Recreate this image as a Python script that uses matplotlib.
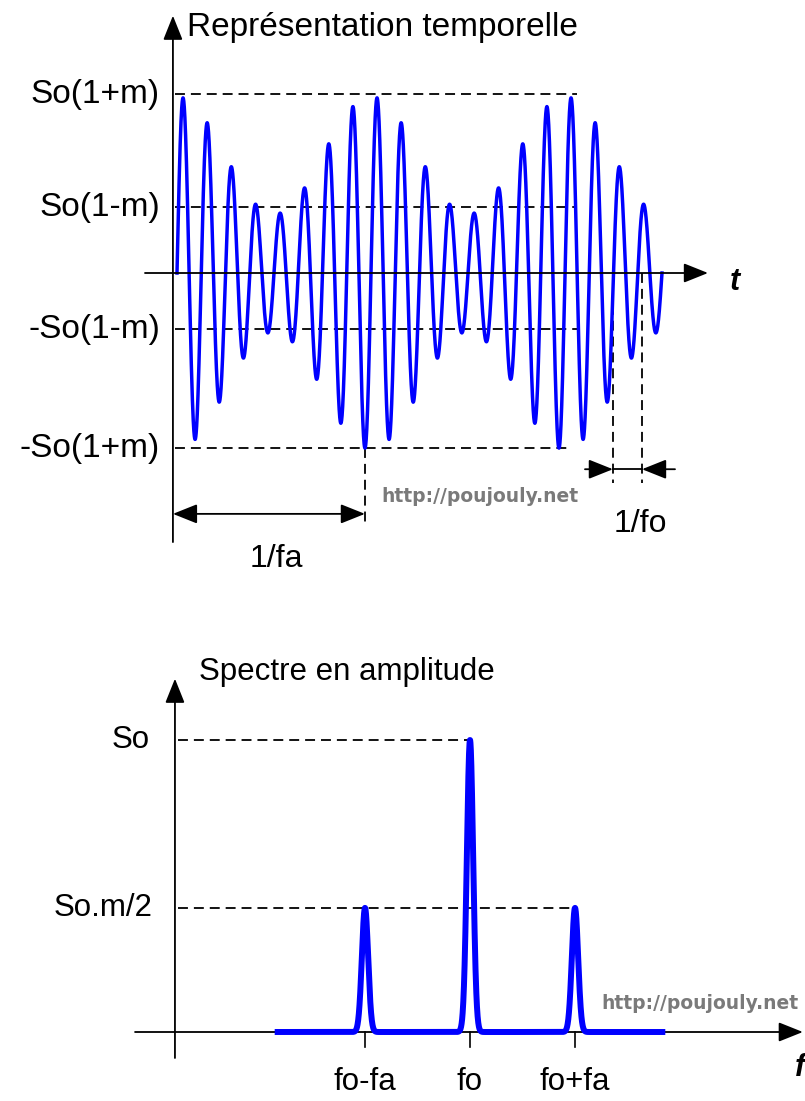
import numpy as np
import matplotlib.pyplot as plt

# Signal parameters (top panel, time in units of 1/fa)
So = 1.0
m = 0.5
fa = 1.0
fo = 8.0
t_end = 2.5

# Reference levels in the time plot
level_labels = ['So(1+m)', 'So(1-m)', '-So(1-m)', '-So(1+m)']
level_vals = [1.52, 0.56, -0.48, -1.49]
level_ends = [2.06, 2.06, 2.06, 2.03]

# Spectrum (bottom panel, frequencies in units of fa)
spec_labels = ['fo-fa', 'fo', 'fo+fa']
spec_freqs = [7.0, 8.0, 9.0]
spec_amps = [0.425, 1.0, 0.425]
spec_span = [6.14, 9.86]
peak_width = 0.03

plt.rcParams['font.family'] = ['Liberation Sans', 'DejaVu Sans']

fig = plt.figure(figsize=(8.05, 11.01), dpi=100)

dash = (0, (5.5, 3.3))
arrow_kw = dict(arrowstyle='-|>,head_length=0.75,head_width=0.3',
                color='black', lw=1.3, shrinkA=0, shrinkB=0, mutation_scale=20)
dbl_kw = dict(arrowstyle='<|-|>,head_length=0.75,head_width=0.3',
              color='black', lw=1.3, shrinkA=0, shrinkB=0, mutation_scale=20)

# ---------------- top : time representation ----------------
ax1 = fig.add_axes([0, 1 - 600 / 1101, 1, 600 / 1101])
ax1.set_xlim((0 - 177) / 194, (805 - 177) / 194)
ax1.set_ylim((273 - 600) / 117.5, 273 / 117.5)
ax1.axis('off')

t = np.linspace(0, t_end, 4000)
s = So * (1 + m * np.cos(2 * np.pi * fa * t)) * np.sin(2 * np.pi * fo * t)
ax1.plot(t, s, color='#0000ff', lw=2.5, zorder=3)

# axes
ax1.annotate('', xy=(2.737, 0), xytext=(-0.165, 0), arrowprops=arrow_kw)
ax1.annotate('', xy=(-0.021, 2.19), xytext=(-0.021, -2.29), arrowprops=arrow_kw)
ax1.text(2.876, -0.08, 't', fontsize=22, fontweight='bold', fontstyle='italic',
         ha='center', va='center')
ax1.text(0.052, 2.09, 'Représentation temporelle', fontsize=24,
         ha='left', va='center')

for lab, v, xe in zip(level_labels, level_vals, level_ends):
    ax1.plot([-0.01, xe], [v, v], color='black', lw=1.3, ls=dash, zorder=2)
    ax1.text(-0.088, v, lab, fontsize=24, ha='right', va='center')

# 1/fa : deepest trough of the first modulation period
t_min = 7.75 / fo
ax1.plot([t_min, t_min], [level_vals[3], -2.16], color='black', lw=1.3, ls=dash)
ax1.annotate('', xy=(t_min, -2.05), xytext=(-0.021, -2.05), arrowprops=dbl_kw)
ax1.text(0.51, -2.43, '1/fa', fontsize=23, ha='center', va='center')

# 1/fo
t_a, t_b = 2.247, 2.397
for tv in (t_a, t_b):
    ax1.plot([tv, tv], [0, -1.79], color='black', lw=1.3, ls=dash)
ax1.plot([t_a, t_b], [-1.67, -1.67], color='black', lw=1.3)
ax1.annotate('', xy=(t_a, -1.67), xytext=(2.103, -1.67), arrowprops=arrow_kw)
ax1.annotate('', xy=(t_b, -1.67), xytext=(2.567, -1.67), arrowprops=arrow_kw)
ax1.text(2.387, -2.14, '1/fo', fontsize=23, ha='center', va='center')

ax1.text(1.562, -1.906, 'http://poujouly.net', fontsize=13.5, fontweight='bold',
         color='#7a7a7a', family='DejaVu Sans', ha='center', va='center')

# ---------------- bottom : amplitude spectrum ----------------
ax2 = fig.add_axes([0, 0, 1, 501 / 1101])
ax2.set_xlim(8 + (0 - 470) / 105, 8 + (805 - 470) / 105)
ax2.set_ylim((1032 - 1101) / 292, (1032 - 600) / 292)
ax2.axis('off')

ax2.annotate('', xy=(11.17, 0), xytext=(4.81, 0), arrowprops=arrow_kw)
ax2.annotate('', xy=(5.19, 1.21), xytext=(5.19, -0.089), arrowprops=arrow_kw)
ax2.text(11.14, -0.125, 'f', fontsize=22, fontweight='bold', fontstyle='italic',
         ha='center', va='center')
ax2.text(5.419, 1.233, 'Spectre en amplitude', fontsize=22.5, ha='left', va='center')

f = np.linspace(spec_span[0], spec_span[1], 3000)
spec = np.zeros_like(f)
for fc, a in zip(spec_freqs, spec_amps):
    spec += a * np.exp(-0.5 * ((f - fc) / peak_width) ** 2)
ax2.plot(f, spec, color='#0000ff', lw=4.3, solid_capstyle='butt', zorder=3)

ax2.plot([5.22, spec_freqs[1]], [spec_amps[1]] * 2, color='black', lw=1.3, ls=dash)
ax2.plot([5.22, spec_freqs[2]], [spec_amps[2]] * 2, color='black', lw=1.3, ls=dash)
ax2.text(4.952, spec_amps[1], 'So', fontsize=22.5, ha='right', va='center')
ax2.text(4.98, spec_amps[2], 'So.m/2', fontsize=22.5, ha='right', va='center')

for fc, lab in zip(spec_freqs, spec_labels):
    ax2.plot([fc, fc], [0, -0.05], color='black', lw=1.2)
    ax2.text(fc, -0.171, lab, fontsize=22.5, ha='center', va='center')

ax2.text(10.19, 0.099, 'http://poujouly.net', fontsize=13.5, fontweight='bold',
         color='#7a7a7a', family='DejaVu Sans', ha='center', va='center')

fig.savefig('out.png', dpi=100)
